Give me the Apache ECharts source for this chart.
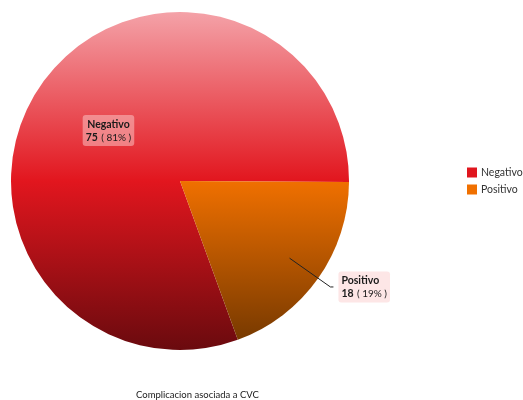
<!DOCTYPE html>
<html>
<head>
<meta charset="utf-8">
<script src="https://cdn.jsdelivr.net/npm/echarts@6/dist/echarts.min.js"></script>
<style>
  html, body { margin: 0; padding: 0; background: #fff; }
  #chart { width: 523px; height: 400px; }
</style>
</head>
<body>
<div id="chart"></div>
<script>
// Chart data
const categories = ['Negativo', 'Positivo'];
const counts = [75, 18];
const chartTitle = 'Complicacion asociada a CVC';

// Styling
const legendColors = ['#e0161e', '#f07000'];
const FONT = 'Lato, "Open Sans", sans-serif';
const CX = 180, CY = 181, R = 169;

function vGrad(stops) {
  return {
    type: 'linear', global: true,
    x: 0, y: CY - R, x2: 0, y2: CY + R,
    colorStops: stops.map((c, i) => ({ offset: i / (stops.length - 1), color: c }))
  };
}
const fills = [
  vGrad(['#f4a2a8', '#e2161e', '#6a0a0e']),
  vGrad(['#f8b070', '#f07000', '#703600'])
];

const rich = {
  n: { fontFamily: FONT, fontSize: 10.5, fontWeight: 'bold', color: '#1a1a1a', lineHeight: 13 },
  v: { fontFamily: FONT, fontSize: 10.5, fontWeight: 'bold', color: '#1a1a1a', lineHeight: 13 },
  p: { fontFamily: FONT, fontSize: 10, color: '#1a1a1a', lineHeight: 13 }
};
const labelBox = {
  formatter: '{n|{b}}\n{v|{c}} {p|( {d}% )}',
  rich: rich,
  backgroundColor: 'rgba(251,205,205,0.5)',
  borderRadius: 3,
  padding: [3, 3, 2, 3]
};

const chart = echarts.init(document.getElementById('chart'), null, { renderer: 'canvas' });
chart.setOption({
  animation: false,
  title: {
    text: chartTitle,
    left: 136, top: 390,
    padding: 0,
    textStyle: { fontFamily: FONT, fontSize: 9.5, fontWeight: 'normal', color: '#1a1a1a' }
  },
  legend: {
    orient: 'vertical',
    left: 467, top: 167,
    padding: 0,
    itemWidth: 10, itemHeight: 10, itemGap: 6,
    icon: 'rect',
    textStyle: { fontFamily: FONT, fontSize: 10.5, color: '#333', padding: [0, 0, 0, -1] },
    data: categories.map((c, i) => ({ name: c, itemStyle: { color: legendColors[i] } }))
  },
  series: [
    {
      type: 'pie',
      center: [CX, CY],
      radius: [0, R],
      startAngle: -70,
      clockwise: true,
      percentPrecision: 0,
      label: Object.assign({ show: true, position: 'inside' }, labelBox),
      labelLine: { show: false },
      emphasis: { disabled: true },
      data: categories.map((c, i) => ({
        name: c,
        value: counts[i],
        itemStyle: { color: fills[i] },
        label: { show: i === 0 }
      }))
    },
    {
      // transparent twin so the outside label's leader starts inside the slice
      type: 'pie',
      center: [CX, CY],
      radius: [0, 134],
      startAngle: -70,
      clockwise: true,
      silent: true,
      z: 3,
      percentPrecision: 0,
      label: Object.assign({ show: true, position: 'outside' }, labelBox),
      labelLine: { show: true, length: 50, length2: 3, smooth: false, lineStyle: { color: '#222', width: 1 } },
      emphasis: { disabled: true },
      data: categories.map((c, i) => ({
        name: c,
        value: counts[i],
        itemStyle: { color: 'rgba(0,0,0,0)' },
        label: { show: i === 1 },
        labelLine: { show: i === 1 }
      }))
    }
  ]
});
</script>
</body>
</html>
